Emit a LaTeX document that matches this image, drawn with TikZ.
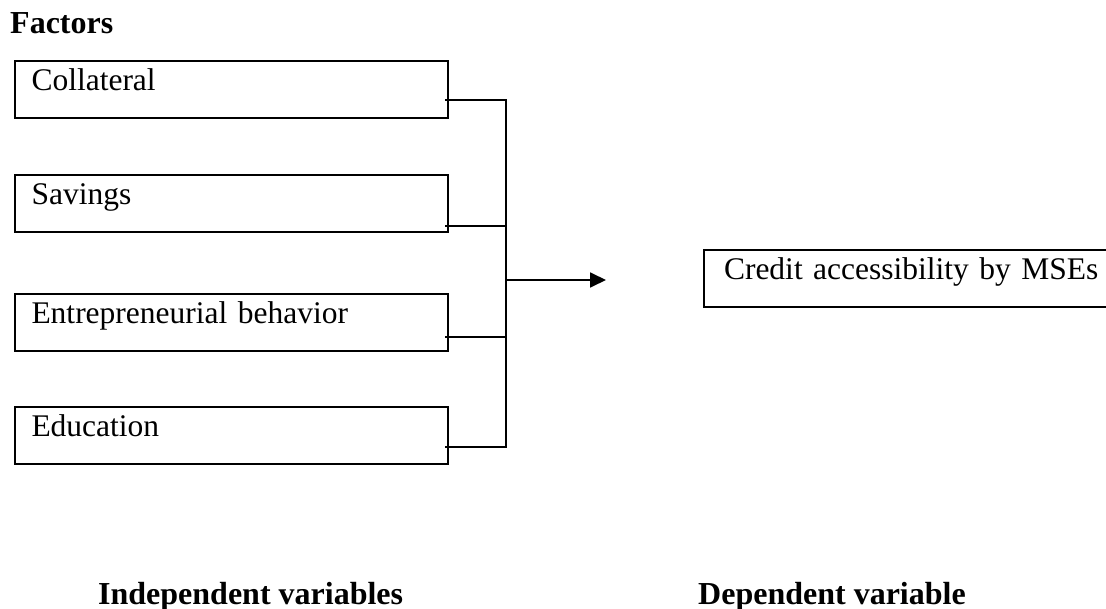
\documentclass[tikz,border=0pt]{standalone}
\usepackage{fontspec}
\setmainfont{Liberation Serif}
\usetikzlibrary{arrows.meta,calc}
\begin{document}
\begin{tikzpicture}[x=1pt,y=-1pt,
  factorbox/.style={draw,line width=2pt,anchor=north west,inner xsep=15pt,inner ysep=4pt,
    text height=26pt,text depth=23pt,minimum width=433pt,align=left,text width=400pt,
    font=\fontsize{31.5}{36}\selectfont},
  link/.style={line width=1.8pt},
  lbl/.style={anchor=base west,inner sep=0pt,font=\fontsize{32}{36}\selectfont\bfseries}]
\clip (0,0) rectangle (1106,609);
\fill[white] (0,0) rectangle (1106,609);
\node[lbl] (factors) at (10,34) {Factors};
\node[factorbox] (coll) at (14,60) {Collateral};
\node[factorbox] (sav) at (14,174) {Savings};
\node[factorbox] (ent) at (14,293) {Entrepreneurial behavior};
\node[factorbox] (edu) at (14,406) {Education};
\node[factorbox,minimum width=440pt,inner xsep=13pt] (credit) at (703,249) {Credit accessibility by MSEs};
\coordinate (top) at (506,98);
\coordinate (bot) at (506,444);
\coordinate (mid) at (506,280);
\coordinate (c1) at ($(coll.south east)+(-4,-19)$);
\coordinate (c2) at ($(sav.south east)+(-4,-7)$);
\coordinate (c3) at ($(ent.south east)+(-4,-15)$);
\coordinate (c4) at ($(edu.south east)+(-4,-18)$);
\draw[link] (c1) -- (c1 -| top) -- (c4 -| top) -- (c4);
\draw[link] (c2) -- (c2 -| top);
\draw[link] (c3) -- (c3 -| top);
\draw[link,-{Triangle[length=16pt,width=15pt]}] (mid) -- (606,280) coordinate (tip);
\node[lbl] (indep) at (98,604) {Independent variables};
\node[lbl] (dep) at (698,604) {Dependent variable};
\end{tikzpicture}
\end{document}
